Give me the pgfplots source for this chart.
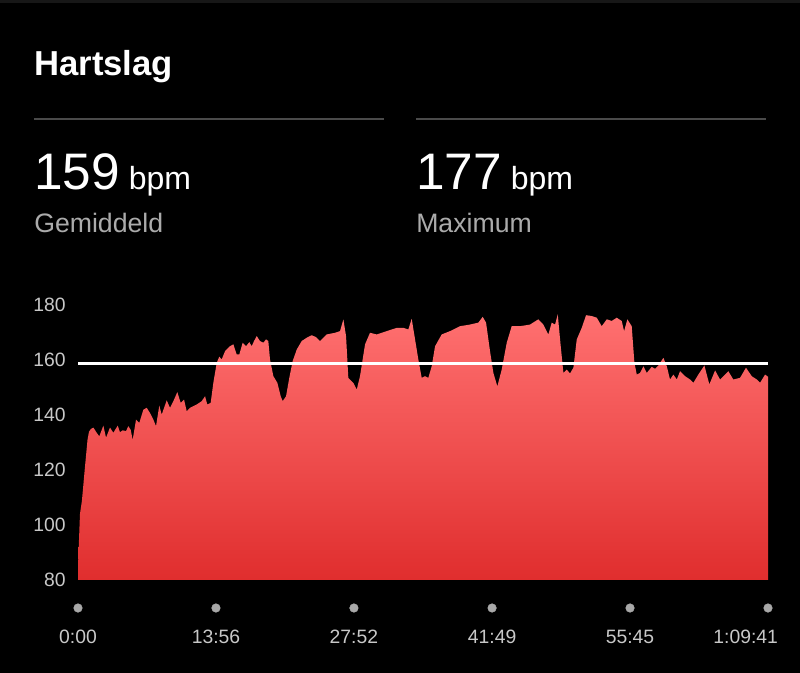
\documentclass[border=0pt]{standalone}
\usepackage{pgfplots}
\pgfplotsset{compat=1.18}
\usepackage{fontspec}
\setmainfont{Liberation Sans}
\definecolor{hrtop}{HTML}{FF7070}
\definecolor{hrbot}{HTML}{E02E2E}
\definecolor{sep}{HTML}{4A4A4A}
\definecolor{sub}{HTML}{ABABAB}
\definecolor{ticklbl}{HTML}{C8C8C8}
\definecolor{dot}{HTML}{A8A8A8}

% heart rate, x in minutes, y in bpm
\pgfplotstableread{
t bpm
0 85
0.2 104
0.4 109
0.7 121
0.96 131
1.11 134
1.31 135
1.55 135.5
1.89 133.6
2.15 132.3
2.56 136.2
2.83 131.8
3.23 135.5
3.57 133.6
4.01 136.2
4.24 133.8
4.51 134.5
4.85 134.2
5.08 136
5.32 134.7
5.52 131
5.86 138.4
6.19 137.2
6.6 142
6.94 142.7
7.27 140.8
7.61 138.4
7.88 136
8.21 143.5
8.45 140.2
8.96 145.4
9.29 142.7
9.63 145.1
10.03 148.4
10.37 144.5
10.71 145.7
10.98 141.4
11.31 142.7
11.99 143.9
12.49 145.1
12.83 146.9
13.06 143.9
13.4 144.5
13.67 151.8
14.01 159.1
14.27 161.3
14.51 160.3
14.85 163.3
15.35 165.1
15.69 165.8
16.03 162.1
16.29 162.1
16.63 166.4
16.97 165.1
17.3 166.6
17.54 165.1
17.78 167
18.05 168.8
18.38 167
18.72 166.4
18.99 167.6
19.22 167
19.39 160.3
19.73 154.2
20.13 151.8
20.47 146.9
20.67 145.1
21.01 146.9
21.34 153.6
21.68 159.7
22.09 163.9
22.59 167
23.1 168.2
23.6 169.1
24.0 168.5
24.44 167
25.12 169.4
25.96 170
26.46 170.6
26.8 174.9
27.07 168.8
27.3 153.6
27.8 151.8
28.15 149.3
28.48 154.2
28.99 165.8
29.49 170
30.17 169.4
31.18 170.6
32.19 171.8
32.86 171.8
33.36 171.2
33.7 175.1
34.04 167.6
34.37 160.3
34.71 153.6
35.05 154.2
35.38 153.6
35.72 157.8
36.06 165.1
36.73 169.4
37.57 170.6
38.58 172.4
39.59 173
40.43 173.7
40.87 175.8
41.21 173.7
41.61 163.3
41.95 155.4
42.35 150.5
42.79 156.6
43.3 166.4
43.8 172.4
44.64 172.4
45.65 173
46.49 174.9
46.99 173
47.5 169.4
47.84 173.7
48.18 173
48.45 176.7
48.75 165.1
49.02 155.4
49.36 156.6
49.69 155.2
50.03 157.3
50.37 167.6
50.87 171.8
51.31 176.4
51.88 176.1
52.39 175.5
52.89 172.4
53.4 174.9
53.9 174.3
54.41 175.5
54.91 174.3
55.15 170.6
55.48 174.9
55.92 172.4
56.19 159.1
56.43 154.8
56.76 155.4
57.1 157.8
57.44 155.4
57.94 157.6
58.28 156.9
58.61 158.1
59.12 160.9
59.46 157.8
59.79 153
60.13 154.8
60.47 153
60.8 156
61.31 154.2
61.81 153
62.15 151.8
62.65 154.8
63.26 158.1
63.76 151.2
64.34 156.3
64.84 153
65.68 156
66.18 153
66.86 153.6
67.46 157.3
68.04 154.2
68.55 153
68.88 151.8
69.39 154.8
69.683 154
}\hrdata

\begin{document}
\begin{tikzpicture}
\fill[black] (0,0) rectangle (600pt,504.75pt);
\useasboundingbox (0,0) rectangle (600pt,504.75pt);
\fill[black!91] (0,502.5pt) rectangle (600pt,504.75pt);

\node[anchor=base west, inner sep=0, white, font=\bfseries\fontsize{26}{30}\selectfont] at (25.5pt,447.75pt) {Hartslag};
\draw[sep, line width=1.5pt] (25.5pt,415.5pt) -- (288pt,415.5pt);
\draw[sep, line width=1.5pt] (312pt,415.5pt) -- (574.5pt,415.5pt);

\node[anchor=base west, inner sep=0, white] at (25.5pt,362.25pt)
  {\fontsize{38.5}{44}\selectfont 159\fontsize{24}{28}\selectfont\ bpm};
\node[anchor=base west, inner sep=0, sub, font=\fontsize{20}{24}\selectfont] at (25.5pt,330pt) {Gemiddeld};
\node[anchor=base west, inner sep=0, white] at (312pt,362.25pt)
  {\fontsize{38.5}{44}\selectfont 177\fontsize{24}{28}\selectfont\ bpm};
\node[anchor=base west, inner sep=0, sub, font=\fontsize{20}{24}\selectfont] at (312pt,330pt) {Maximum};

\begin{axis}[
  at={(58.5pt,69.75pt)}, anchor=south west,
  scale only axis, width=517.5pt, height=206pt,
  xmin=0, xmax=69.683, ymin=80, ymax=180,
  clip=false,
  axis line style={draw=none},
  major tick length=0pt,
  ytick={80,100,120,140,160,180},
  yticklabels={80,100,120,140,160,180},
  xtick={0,13.933,27.867,41.817,55.75,69.683},
  xticklabels={0:00,13:56,27:52,41:49,55:45,\makebox[0pt][r]{1:09:41\hspace*{-7.5pt}}},
  tick label style={text=ticklbl, font=\fontsize{14.5}{17}\selectfont},
  yticklabel style={anchor=east, inner sep=0pt, xshift=-9pt},
  xticklabel style={anchor=base, inner sep=0pt, yshift=-48pt},
]
\addplot[draw=none, top color=hrtop, bottom color=hrbot] table[x=t, y=bpm] {\hrdata} \closedcycle;
\addplot[white, line width=2.25pt] coordinates {(0,159) (69.683,159)};
\addplot[only marks, mark=*, mark size=3.2pt, dot] coordinates {
(0,69.8) (13.933,69.8) (27.867,69.8) (41.817,69.8) (55.75,69.8) (69.683,69.8)};
\end{axis}
\end{tikzpicture}
\end{document}
